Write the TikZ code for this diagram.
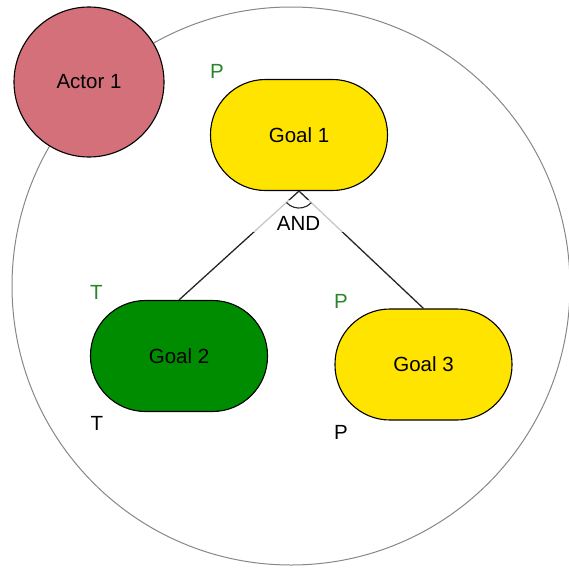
\documentclass[tikz,border=0pt]{standalone}
\usepackage{fontspec}
\setmainfont{Liberation Sans}
\definecolor{actorpink}{RGB}{212,112,122}
\definecolor{goalyellow}{RGB}{255,228,0}
\definecolor{goalgreen}{RGB}{0,140,0}
\definecolor{lblgreen}{RGB}{40,135,40}
\definecolor{bordergray}{RGB}{135,135,135}
\begin{document}
\begin{tikzpicture}[x=1pt,y=-1pt,
  txt/.style={font=\fontsize{20.5}{24}\selectfont, inner sep=0pt},
  goal/.style={draw=black, line width=1.1pt, rounded corners=55pt, minimum width=177pt, minimum height=111pt, txt},
  lblg/.style={txt, text=lblgreen},
  lblk/.style={txt, text=black},
  link/.style={draw=black!85, line width=1.3pt}]
\useasboundingbox (0,0) rectangle (569,571);
\node[draw=bordergray, line width=1pt, circle, minimum size=558pt, inner sep=0pt] (boundary) at (291,286) {};
\node[draw=black, line width=1.1pt, circle, fill=actorpink, minimum size=150pt, inner sep=0pt, txt] (actor) at (89,82) {Actor 1};
\node[goal, fill=goalyellow] (g1) at (299,135) {Goal 1};
\node[goal, fill=goalgreen] (g2) at (179,356) {Goal 2};
\node[goal, fill=goalyellow] (g3) at (423.5,364.5) {Goal 3};
\draw[link] (g1.south) -- (g2.north);
\draw[link] (g1.south) -- (g3.north);
\fill[white, opacity=0.75] (250,200) rectangle (347,232);
\draw[black!85, line width=1.1pt] (g1.south) ++(222.5:17pt) arc[start angle=222.5, end angle=316.4, radius=17pt];
\node[txt] (and) at (298.5,223) {AND};
\node[lblg] (p1) at (217,71) {P};
\node[lblg] (t2) at (96.5,292) {T};
\node[lblk] (t2b) at (97,423) {T};
\node[lblg] (p3) at (341,301) {P};
\node[lblk] (p3b) at (341,432) {P};
\end{tikzpicture}
\end{document}
